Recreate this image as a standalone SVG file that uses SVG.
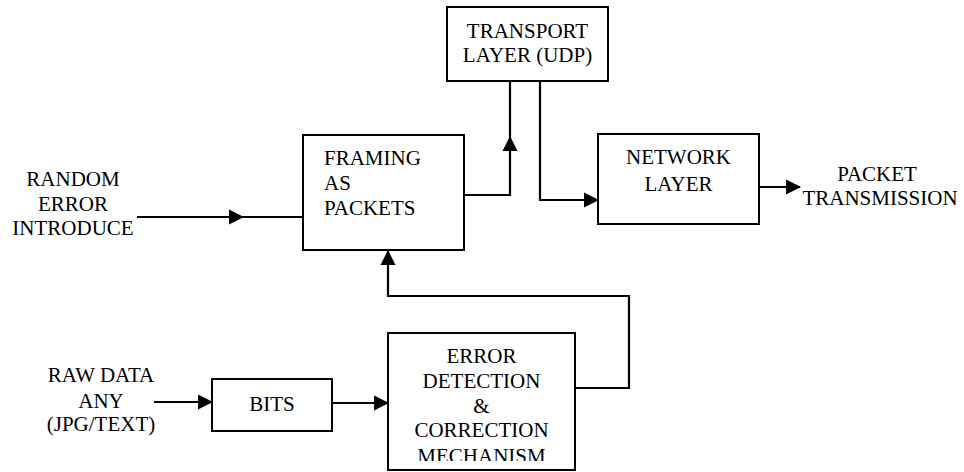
<svg xmlns="http://www.w3.org/2000/svg" xmlns:xlink="http://www.w3.org/1999/xlink" width="964" height="472" viewBox="0 0 964 472">
  <style>
    .box { fill: #fff; stroke: #000; stroke-width: 2; }
    .wire { fill: none; stroke: #000; stroke-width: 2.2; }
    .head { fill: #000; }
  </style>
  <defs>
    <!-- arrowhead pointing right, tip at origin -->
    <polygon id="ah" class="head" points="0,0 -15,-7.5 -15,7.5"/>
    <clipPath id="errClip"><rect x="388" y="333" width="187" height="128"/></clipPath>
  </defs>
  <rect width="964" height="472" fill="#fff"/>

  <g id="connectors">
    <!-- random error input -->
    <path class="wire" d="M137,217 H303"/>
    <use xlink:href="#ah" transform="translate(244,217)"/>
    <!-- framing to transport -->
    <path class="wire" d="M464,195 H510 V81"/>
    <use xlink:href="#ah" transform="translate(510,136) rotate(-90)"/>
    <!-- transport to network -->
    <path class="wire" d="M540,81 V200 H598"/>
    <use xlink:href="#ah" transform="translate(599,200)"/>
    <!-- network output -->
    <path class="wire" d="M759,187 H800"/>
    <use xlink:href="#ah" transform="translate(801,187)"/>
    <!-- raw data to bits -->
    <path class="wire" d="M154,402 H212"/>
    <use xlink:href="#ah" transform="translate(213,402)"/>
    <!-- bits to error detection -->
    <path class="wire" d="M332,403 H388"/>
    <use xlink:href="#ah" transform="translate(389,403)"/>
    <!-- feedback from error detection to framing -->
    <path class="wire" d="M575,388 H629 V296 H388 V251"/>
    <use xlink:href="#ah" transform="translate(388,250) rotate(-90)"/>
  </g>

  <g font-family="Liberation Serif, Times New Roman, Times, Tinos, Noto Serif, FreeSerif, DejaVu Serif, serif" font-size="21" fill="#000">
    <g id="random-error" text-anchor="middle">
      <text x="73" y="186">RANDOM</text>
      <text x="73" y="211">ERROR</text>
      <text x="73" y="235">INTRODUCE</text>
    </g>

    <g id="framing">
      <rect class="box" x="303" y="135" width="161" height="115"/>
      <text x="324" y="165">FRAMING</text>
      <text x="324" y="190">AS</text>
      <text x="324" y="215">PACKETS</text>
    </g>

    <g id="transport" text-anchor="middle">
      <rect class="box" x="447" y="7" width="161" height="74"/>
      <text x="527.5" y="38">TRANSPORT</text>
      <text x="527.5" y="62">LAYER (UDP)</text>
    </g>

    <g id="network" text-anchor="middle">
      <rect class="box" x="598" y="134" width="161" height="90"/>
      <text x="678.5" y="164">NETWORK</text>
      <text x="678.5" y="191">LAYER</text>
    </g>

    <g id="packet-transmission" text-anchor="middle">
      <text x="877" y="181">PACKET</text>
      <text x="880" y="205">TRANSMISSION</text>
    </g>

    <g id="raw-data" text-anchor="middle">
      <text x="101" y="382">RAW DATA</text>
      <text x="101" y="408">ANY</text>
      <text x="101" y="431">(JPG/TEXT)</text>
    </g>

    <g id="bits" text-anchor="middle">
      <rect class="box" x="212" y="379" width="120" height="52"/>
      <text x="272" y="411">BITS</text>
    </g>

    <g id="error-detection" text-anchor="middle">
      <rect class="box" x="388" y="333" width="187" height="137"/>
      <g clip-path="url(#errClip)">
        <text x="481.5" y="363">ERROR</text>
        <text x="481.5" y="388">DETECTION</text>
        <text x="481.5" y="413">&amp;</text>
        <text x="481.5" y="437">CORRECTION</text>
        <text x="481.5" y="463">MECHANISM</text>
      </g>
    </g>
  </g>
</svg>
